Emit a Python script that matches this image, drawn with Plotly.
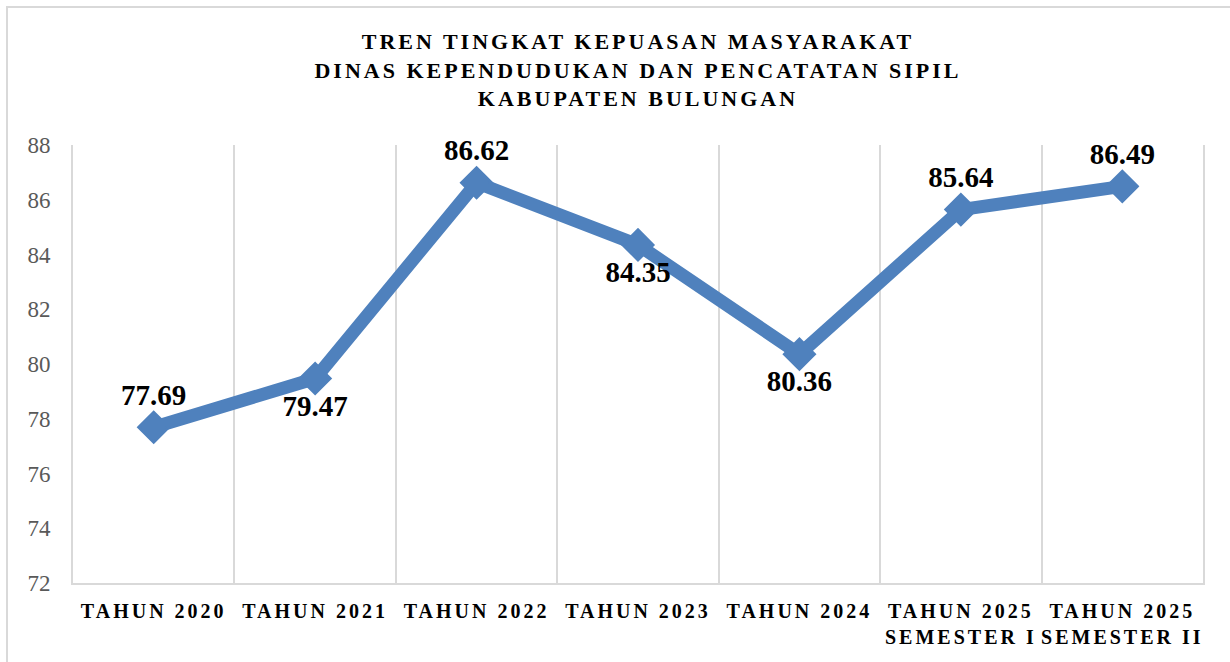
import plotly.graph_objects as go

categories = ["TAHUN 2020", "TAHUN 2021", "TAHUN 2022", "TAHUN 2023", "TAHUN 2024",
              "TAHUN 2025<br>SEMESTER I", "TAHUN 2025<br>SEMESTER II"]
values = [77.69, 79.47, 86.62, 84.35, 80.36, 85.64, 86.49]
label_pos = ["top center", "bottom center", "top center", "bottom center",
             "bottom center", "top center", "top center"]
y_ticks = [72, 74, 76, 78, 80, 82, 84, 86, 88]
title_lines = ["TREN TINGKAT KEPUASAN MASYARAKAT",
               "DINAS KEPENDUDUKAN DAN PENCATATAN SIPIL",
               "KABUPATEN BULUNGAN"]

BLUE = "#4F81BD"
GRID = "#D9D9D9"
SERIF = "Liberation Serif, DejaVu Serif, serif"

fig = go.Figure()
fig.add_trace(go.Scatter(
    x=categories, y=values,
    mode="lines+markers+text",
    line=dict(color=BLUE, width=13),
    marker=dict(symbol="diamond", size=23, color=BLUE, line=dict(color=BLUE, width=3)),
    text=[f"{v:.2f}" for v in values],
    textposition=label_pos,
    textfont=dict(family=SERIF, size=29, color="#000000", weight="bold"),
    cliponaxis=False,
    hoverinfo="skip",
))

L, R, T, B = 73, 27, 145, 79
W, H = 1230, 662
pw, ph = W - L - R, H - T - B

def px(x):
    return (x - L) / pw

def py(y):
    return (H - B - y) / ph

fig.update_layout(
    width=W, height=H,
    margin=dict(l=L, r=R, t=T, b=B, autoexpand=False),
    paper_bgcolor="white", plot_bgcolor="white",
    showlegend=False,
    title=dict(
        text="<br>".join(title_lines),
        x=0.5, xanchor="center", xref="paper",
        y=1 - 49 / H, yanchor="top", yref="container",
        font=dict(family=SERIF, size=22, color="#000000", weight="bold"),
    ),
    xaxis=dict(
        type="category",
        range=[-0.5, len(categories) - 0.5],
        tickson="boundaries",
        showgrid=True, gridcolor=GRID, gridwidth=2,
        showline=True, linecolor=GRID, linewidth=2,
        ticks="",
        ticklabelstandoff=9,
        tickfont=dict(family=SERIF, size=20, color="#000000", weight="bold"),
        automargin=False,
    ),
    yaxis=dict(
        range=[72, 88],
        tickvals=y_ticks,
        showgrid=False, zeroline=False,
        showline=True, linecolor=GRID, linewidth=2, mirror=True,
        ticks="",
        ticklabelstandoff=16,
        tickfont=dict(family=SERIF, size=23, color="#595959"),
        automargin=False,
    ),
    shapes=[dict(
        type="rect", xref="paper", yref="paper",
        x0=px(7), x1=px(1260), y0=py(700), y1=py(7),
        line=dict(color=GRID, width=2), fillcolor="rgba(0,0,0,0)", layer="above",
    )],
)

post = """
var gd = document.getElementById('{plot_id}');
gd.querySelectorAll('.gtitle').forEach(function(e){ e.style.letterSpacing='3px'; });
gd.querySelectorAll('.xtick text').forEach(function(e){ e.style.letterSpacing='3px'; });
"""

fig.write_html("out.html", post_script=post)
